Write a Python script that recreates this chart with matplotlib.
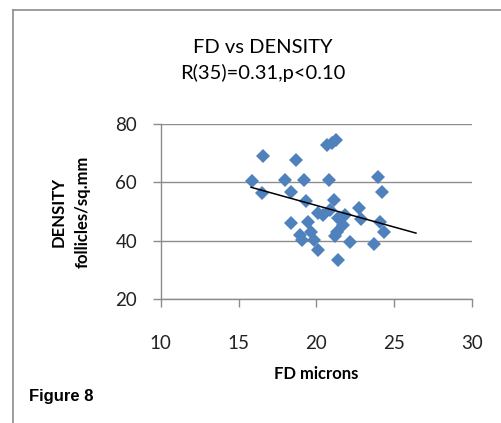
import matplotlib
matplotlib.use('Agg')
import matplotlib.pyplot as plt
from matplotlib.lines import Line2D

# FD (microns) vs follicle density
fd = [15.85, 16.50, 16.56, 17.97, 18.36, 18.68, 19.20, 19.32, 18.36, 19.07,
      19.45, 19.65, 20.10, 20.42, 20.68, 21.25, 20.80, 21.13, 21.38, 21.32,
      22.15, 21.38, 22.73, 22.86, 23.70, 23.95, 24.21, 24.08, 24.34, 21.00,
      19.84, 21.70, 20.87, 20.10, 21.83, 18.94, 21.19]
density = [60.5, 56.4, 69.0, 60.8, 56.7, 67.7, 60.8, 53.6, 46.1, 40.3,
           46.4, 43.0, 36.8, 48.8, 72.8, 74.5, 60.8, 54.0, 47.8, 43.0,
           39.6, 33.4, 51.2, 47.5, 38.9, 61.8, 56.7, 46.4, 43.0, 73.5,
           40.3, 45.4, 50.5, 49.5, 48.8, 42.0, 41.6]

# linear trendline end points
trend_x = [15.8, 26.4]
trend_y = [58.3, 42.6]

xticks = [10, 15, 20, 25, 30]
yticks = [20, 40, 60, 80]

grey = '#8c8c8c'
blue = '#4f81bd'

fig = plt.figure(figsize=(5.01, 4.23), dpi=100)
ax = fig.add_axes([0.321, 0.293, 0.621, 0.414])

ax.plot(fd, density, 'D', color=blue, markersize=7.6, markeredgewidth=0, zorder=3)
ax.plot(trend_x, trend_y, color='black', linewidth=1.1, zorder=4)

ax.set_xlim(10, 30)
ax.set_ylim(20, 80)
ax.set_xticks(xticks)
ax.set_yticks(yticks)
ax.yaxis.grid(True, color=grey, linewidth=1.0)
ax.set_axisbelow(True)
for s in ['top', 'right']:
    ax.spines[s].set_visible(False)
for s in ['left', 'bottom']:
    ax.spines[s].set_color(grey)
    ax.spines[s].set_linewidth(1.0)
ax.tick_params(direction='out', length=6, color=grey, width=1.0,
               labelsize=13.5)
for lab in ax.get_xticklabels() + ax.get_yticklabels():
    lab.set_family('Lato')
    lab.set_color('#222222')
ax.tick_params(axis='x', pad=20)
ax.tick_params(axis='y', pad=11)

ax.set_xlabel('FD microns', fontsize=12, fontweight='bold', family='Lato',
              labelpad=10)
ax.set_ylabel('DENSITY\nfollicles/sq.mm', fontsize=12, fontweight='bold',
              family='Lato', labelpad=18, linespacing=1.6)

fig.text(0.525, 0.888, 'FD vs DENSITY', ha='center', va='center',
         fontsize=14.5, family='Lato')
fig.text(0.525, 0.827, 'R(35)=0.31,p<0.10', ha='center', va='center',
         fontsize=14.5, family='Lato')
fig.text(0.058, 0.062, 'Figure 8', ha='left', va='center', fontsize=12,
         fontweight='bold', family='Liberation Sans')

# outer chart border (left and top edges visible)
fig.add_artist(Line2D([0.026, 0.026], [0.0, 0.976], color=grey, linewidth=1.2,
                      transform=fig.transFigure))
fig.add_artist(Line2D([0.026, 1.0], [0.976, 0.976], color=grey, linewidth=1.2,
                      transform=fig.transFigure))

fig.savefig('out.png', dpi=100, facecolor='white')
